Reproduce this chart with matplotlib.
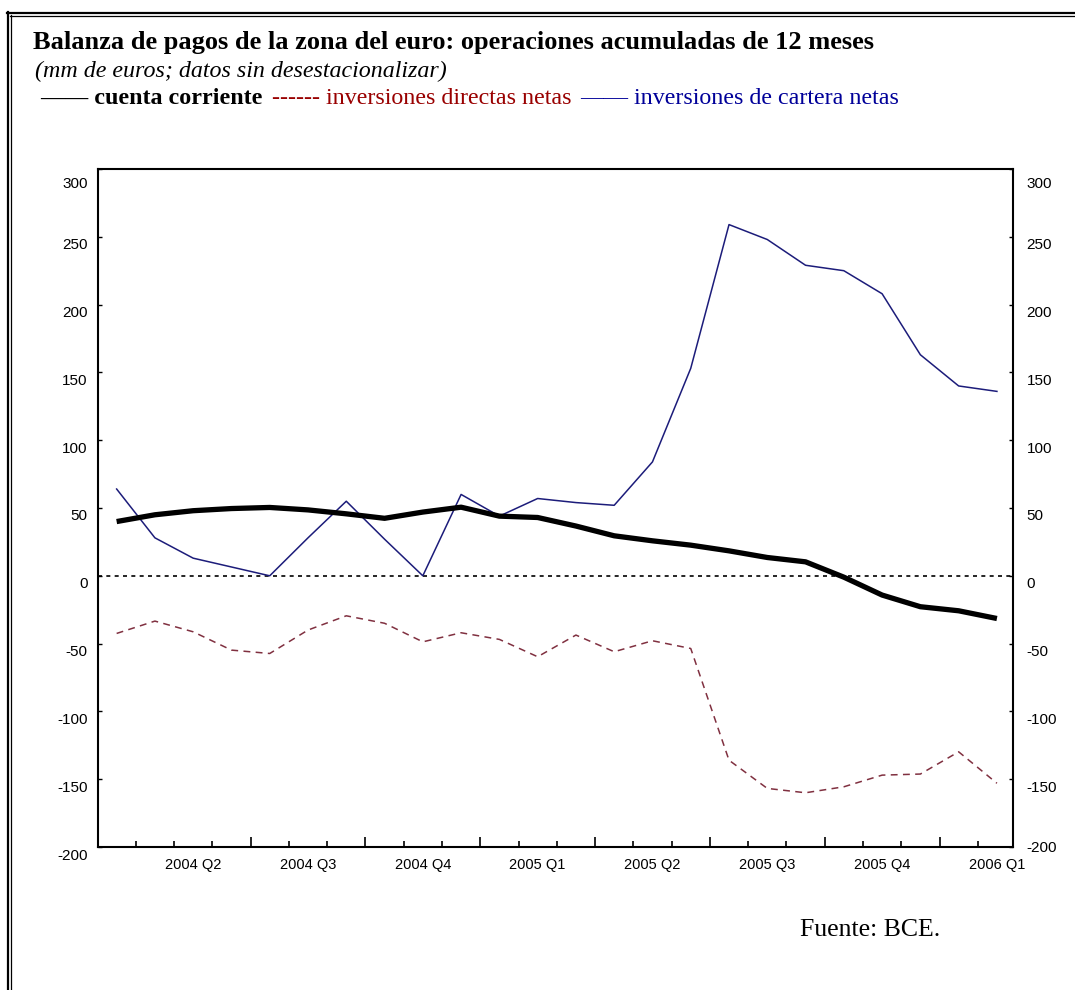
import matplotlib
matplotlib.use("Agg")
import matplotlib.pyplot as plt
from matplotlib.transforms import ScaledTranslation
from matplotlib.lines import Line2D

# ---- data (mm de euros) ----
months = list(range(24))
cuenta_corriente = [40, 45, 48, 49.6, 50.4, 48.6, 45.7, 42.4, 47, 50.6, 44, 43,
                    36.7, 29.5, 25.8, 22.6, 18.4, 13.5, 10.3, -1, -14.2, -22.8, -25.8, -31.5]
inv_directas = [-42.5, -33.4, -41.3, -54.8, -57.3, -40, -29.5, -35, -48.7, -42, -46.9, -59.7,
                -43.7, -56, -47.9, -53.6, -136, -156.8, -160, -155.6, -147, -146.2, -129.8, -153]
inv_cartera = [64, 28, 13, 6.5, 0, 28, 55, 27, 0, 60, 44, 57,
               54, 52, 84, 153, 259, 248, 229, 225, 208, 163, 140, 136]

quarter_labels = ["2004 Q2", "2004 Q3", "2004 Q4", "2005 Q1",
                  "2005 Q2", "2005 Q3", "2005 Q4", "2006 Q1"]
quarter_label_pos = [2, 5, 8, 11, 14, 17, 20, 23]
quarter_tick_pos = [3.5, 6.5, 9.5, 12.5, 15.5, 18.5, 21.5]
month_tick_pos = [m + 0.5 for m in range(23) if (m + 0.5) not in quarter_tick_pos]
y_ticks = list(range(-200, 301, 50))

W, H = 1075, 990
fig = plt.figure(figsize=(W / 100, H / 100), dpi=100)
fig.patch.set_facecolor("white")

L, R, T, B = 97.5, 1013, 169, 847
ax = fig.add_axes([L / W, 1 - B / H, (R - L) / W, (B - T) / H])

ax.plot(months, inv_cartera, color="#1c1c7a", lw=1.1, zorder=3)
ax.plot(months, inv_directas, color="#803040", lw=1.1, dashes=(4.5, 3.5), zorder=3)
ax.plot(months, cuenta_corriente, color="black", lw=3.8, solid_capstyle="butt", zorder=4)
ax.axhline(0, color="black", lw=1.2, dashes=(2.4, 2.6), zorder=2)

ax.set_xlim(-0.5, 23.42)
ax.set_ylim(-200, 300)

for s in ax.spines.values():
    s.set_linewidth(1.5)
    s.set_color("black")

ytick_font = dict(family="Liberation Sans", size=11)
xtick_font = dict(family="Liberation Sans", size=10.5)

ax.set_yticks(y_ticks)
ax.set_yticklabels([str(v) for v in y_ticks], **ytick_font)
ax.tick_params(axis="y", which="major", direction="in", length=3, width=1,
               left=True, right=True, labelleft=True, labelright=True, pad=7)

ax.set_xticks(quarter_tick_pos)
ax.set_xticks(month_tick_pos, minor=True)
ax.tick_params(axis="x", which="major", direction="in", length=7, width=1.2,
               labelbottom=False, top=False)
ax.tick_params(axis="x", which="minor", direction="in", length=4, width=1.2, top=False)

sec = ax.secondary_xaxis("bottom")
sec.set_xticks(quarter_label_pos)
sec.set_xticklabels(quarter_labels, **xtick_font)
sec.tick_params(length=0, pad=8)
sec.spines["bottom"].set_visible(False)

for tk in ax.yaxis.get_major_ticks():
    v = tk.get_loc()
    dy1 = -13 if v == 300 else -7
    tk.label1.set_transform(tk.label1.get_transform() +
                            ScaledTranslation(0, dy1 / 100, fig.dpi_scale_trans))
    dy2 = 1 if v == -200 else dy1
    tk.label2.set_transform(tk.label2.get_transform() +
                            ScaledTranslation(4 / 100, dy2 / 100, fig.dpi_scale_trans))

# ---- texts ----
serif = "Liberation Serif"
def fx(px):
    return px / W
def fy(py):
    return 1 - py / H

fig.text(fx(33), fy(42), "Balanza de pagos de la zona del euro: operaciones acumuladas de 12 meses",
         family=serif, weight="bold", size=19, va="center", ha="left")
fig.text(fx(35), fy(71), "(mm de euros; datos sin desestacionalizar)",
         family=serif, style="italic", size=17.3, va="center", ha="left")
fig.text(fx(40), fy(99), "\u2014\u2014 cuenta corriente",
         family=serif, weight="bold", size=17.3, va="center", ha="left", color="black")
fig.text(fx(272), fy(99), "------ inversiones directas netas",
         family=serif, size=17.3, va="center", ha="left", color="#990000")
fig.text(fx(580), fy(99), "\u2014\u2014 inversiones de cartera netas",
         family=serif, size=17.3, va="center", ha="left", color="#000099")
fig.text(fx(800), fy(930), "Fuente: BCE.",
         family=serif, size=18.5, va="center", ha="left", color="black")

# ---- outer frame (top and left double line) ----
fig.add_artist(Line2D([fx(7.5), fx(7.5)], [fy(12), 0], transform=fig.transFigure, color="black", lw=1.6))
fig.add_artist(Line2D([fx(10.5), fx(10.5)], [fy(15), 0], transform=fig.transFigure, color="black", lw=0.9))
fig.add_artist(Line2D([fx(7), 1], [fy(12.5), fy(12.5)], transform=fig.transFigure, color="black", lw=1.6))
fig.add_artist(Line2D([fx(10), 1], [fy(15.5), fy(15.5)], transform=fig.transFigure, color="black", lw=0.9))

fig.savefig("out.png", dpi=100, facecolor="white")
